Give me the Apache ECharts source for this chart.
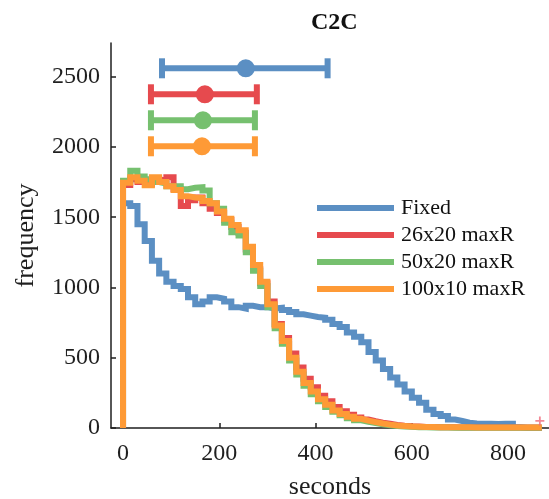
<!DOCTYPE html>
<html>
<head>
<meta charset="utf-8">
<script src="https://cdn.jsdelivr.net/npm/echarts@6/dist/echarts.min.js"></script>
<style>
  html, body { margin: 0; padding: 0; background: #fff; }
  #chart { width: 549px; height: 499px; }
</style>
</head>
<body>
<div id="chart"></div>
<script>
// step histograms, one value per 15 s bin starting at 0
const binWidth = 15;
const seriesNames = ['Fixed', '26x20 maxR', '50x20 maxR', '100x10 maxR'];
const colors = ['#5b8fc3', '#e64a4e', '#76c06f', '#fe9a36'];

const fixedFreq = [1600, 1580, 1450, 1330, 1190, 1100, 1040, 1010, 990, 930,
  880, 900, 930, 920, 900, 860, 850, 870, 860, 860,
  850, 855, 840, 825, 810, 800, 790, 785, 770, 740,
  718, 680, 650, 610, 540, 480, 420, 360, 310, 260,
  215, 180, 130, 100, 85, 60, 50, 38, 32, 30,
  30, 28, 30, 30, 5, 0, 0, 0];
const r26Freq = [1730, 1770, 1750, 1740, 1770, 1760, 1785, 1700, 1580, 1620,
  1640, 1600, 1560, 1530, 1480, 1430, 1390, 1270, 1130, 1030,
  900, 740, 640, 530, 430, 350, 290, 230, 190, 150,
  120, 95, 75, 60, 48, 38, 30, 22, 16, 12,
  10, 8, 7, 6, 5, 5, 4, 4, 4, 3,
  3, 3, 3, 3, 3, 3, 3, 3];
const r50Freq = [1760, 1830, 1790, 1770, 1750, 1740, 1720, 1720, 1700, 1710,
  1714, 1690, 1600, 1560, 1460, 1394, 1370, 1250, 1120, 1010,
  860, 710, 600, 480, 380, 300, 240, 190, 150, 115,
  90, 70, 55, 44, 35, 26, 20, 14, 10, 8,
  6, 5, 4, 3, 3, 2, 2, 2, 2, 2,
  2, 2, 2, 2, 2, 2, 2, 2];
const r100Freq = [1745, 1785, 1760, 1728, 1785, 1750, 1720, 1693, 1650, 1640,
  1636, 1615, 1600, 1540, 1490, 1444, 1408, 1290, 1160, 1040,
  880, 730, 620, 500, 400, 320, 260, 205, 165, 125,
  100, 80, 65, 52, 42, 32, 24, 18, 14, 11,
  9, 8, 7, 6, 6, 5, 5, 5, 4, 4,
  4, 4, 3, 3, 3, 3, 3, 3];

// mean with range, drawn above the curves
const errMean = [255, 170, 166, 164];
const errLow = [81, 58, 58, 58];
const errHigh = [425, 278, 274, 274];
const errLevel = [2560, 2375, 2190, 2005];

const endMark = [[866, 50]];

const xTicks = [0, 200, 400, 600, 800];
const yTicks = [0, 500, 1000, 1500, 2000, 2500];

const serif = 'Liberation Serif';
const ink = '#1f1f1f';

function toSteps(freq) {
  const pts = [[0, 0]];
  freq.forEach((f, i) => pts.push([i * binWidth, f]));
  pts.push([freq.length * binWidth, 0]);
  return pts;
}

const lineData = [fixedFreq, r26Freq, r50Freq, r100Freq];

const chart = echarts.init(document.getElementById('chart'));

const series = lineData.map((freq, i) => ({
  name: seriesNames[i],
  type: 'line',
  step: 'end',
  data: toSteps(freq),
  showSymbol: false,
  symbol: 'none',
  clip: false,
  color: colors[i],
  lineStyle: { width: 6, color: colors[i], join: 'miter' },
  z: 3 + i
}));

series.push({
  type: 'custom',
  clip: false,
  z: 8,
  data: errMean.map((m, i) => [m, errLow[i], errHigh[i], errLevel[i], i]),
  renderItem: function (params, api) {
    const mid = api.coord([api.value(0), api.value(3)]);
    const lo = api.coord([api.value(1), api.value(3)]);
    const hi = api.coord([api.value(2), api.value(3)]);
    const c = colors[api.value(4)];
    const st = { stroke: c, lineWidth: 6, fill: null };
    const cap = 10;
    return {
      type: 'group',
      children: [
        { type: 'line', shape: { x1: lo[0], y1: lo[1], x2: hi[0], y2: hi[1] }, style: st },
        { type: 'line', shape: { x1: lo[0], y1: lo[1] - cap, x2: lo[0], y2: lo[1] + cap }, style: st },
        { type: 'line', shape: { x1: hi[0], y1: hi[1] - cap, x2: hi[0], y2: hi[1] + cap }, style: st },
        { type: 'circle', shape: { cx: mid[0], cy: mid[1], r: 9 }, style: { fill: c } }
      ]
    };
  }
});

series.push({
  type: 'scatter',
  data: endMark,
  symbol: 'path://M4,0H6V4H10V6H6V10H4V6H0V4H4Z',
  symbolSize: 9,
  clip: false,
  itemStyle: { color: '#f06a7a' },
  z: 9
});

const option = {
  animation: false,
  backgroundColor: '#fff',
  title: {
    text: 'C2C',
    left: 306,
    top: 6,
    textStyle: { fontFamily: serif, fontSize: 24, fontWeight: 'bold', color: '#111' }
  },
  legend: {
    data: seriesNames,
    orient: 'vertical',
    left: 312,
    top: 192,
    itemWidth: 77,
    itemHeight: 6,
    itemGap: 5,
    icon: 'rect',
    textStyle: { fontFamily: serif, fontSize: 22, color: '#111', padding: [0, 0, 0, 2] }
  },
  grid: {
    left: 111,
    right: 0,
    top: 43,
    bottom: 71,
    containLabel: false,
    outerBoundsMode: 'none'
  },
  xAxis: {
    type: 'value',
    min: -25,
    max: 885,
    name: 'seconds',
    nameLocation: 'middle',
    nameGap: 46,
    nameTextStyle: { fontFamily: serif, fontSize: 26, color: ink },
    axisLine: { onZero: false, lineStyle: { color: ink, width: 1.5 } },
    axisTick: { inside: true, length: 5, customValues: xTicks, lineStyle: { color: ink, width: 1.5 } },
    axisLabel: {
      customValues: xTicks, margin: 14, fontFamily: serif, fontSize: 24, color: ink,
      formatter: v => String(v)
    },
    splitLine: { show: false }
  },
  yAxis: {
    type: 'value',
    min: 0,
    max: 2740,
    name: 'frequency',
    nameLocation: 'middle',
    nameGap: 72,
    nameTextStyle: { fontFamily: serif, fontSize: 26, color: ink },
    axisLine: { show: true, onZero: false, lineStyle: { color: ink, width: 1.5 } },
    axisTick: { show: true, inside: true, length: 5, customValues: yTicks, lineStyle: { color: ink, width: 1.5 } },
    axisLabel: {
      customValues: yTicks, margin: 11, fontFamily: serif, fontSize: 24, color: ink,
      formatter: v => String(v)
    },
    splitLine: { show: false }
  },
  series: series
};

chart.setOption(option);
</script>
</body>
</html>
